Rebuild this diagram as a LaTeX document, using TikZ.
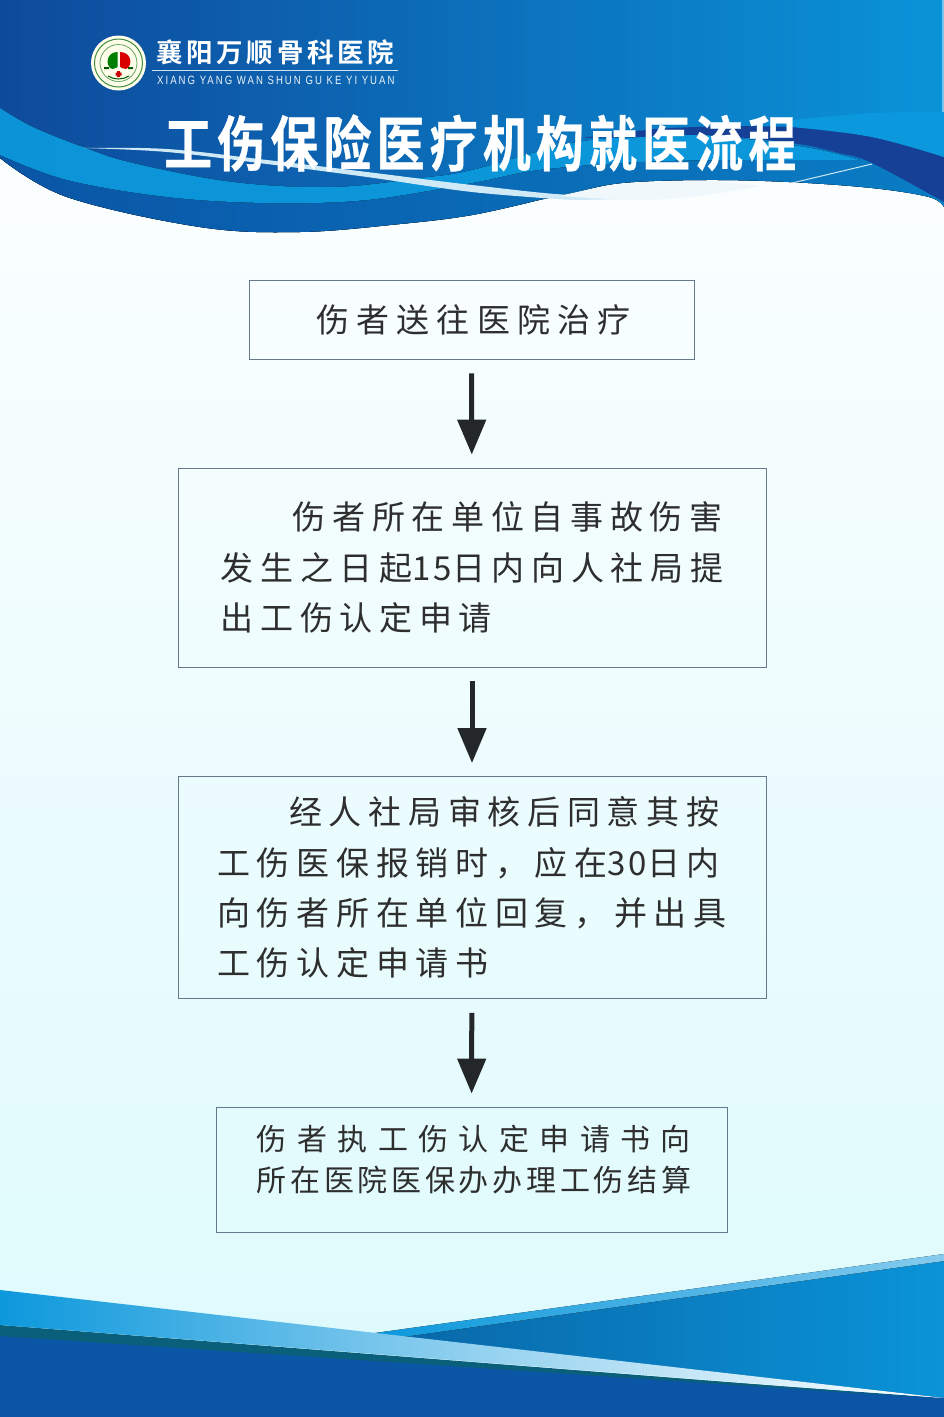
\documentclass[tikz,border=0pt]{standalone}
\usepackage{fontspec}
\usetikzlibrary{arrows.meta}
\setmainfont{Noto Sans CJK SC}
\newfontfamily\boxone[LetterSpace=21.5]{Noto Sans CJK SC}
\newfontfamily\boxfont[LetterSpace=20.3]{Noto Sans CJK SC}
\newfontfamily\numfont[LetterSpace=9]{Noto Sans CJK SC}
\newfontfamily\boxwide[LetterSpace=34.7]{Noto Sans CJK SC}
\newfontfamily\boxtight[LetterSpace=12.3]{Noto Sans CJK SC}
\newfontfamily\titlefont[FakeStretch=0.8,LetterSpace=8.5,FakeBold=0.5]{Noto Sans CJK SC Bold}
\newfontfamily\namefont[LetterSpace=14]{Noto Sans CJK SC Bold}
\newfontfamily\pinfont[LetterSpace=16.7,FakeStretch=0.8]{Liberation Sans}
\definecolor{hdA}{HTML}{0E4A9C}\definecolor{hdB}{HTML}{0A74BC}\definecolor{hdC}{HTML}{0A93D8}
\definecolor{lwA}{HTML}{0A55A6}\definecolor{lwB}{HTML}{0A6FB9}\definecolor{lwC}{HTML}{0A7DC4}
\definecolor{lightband}{HTML}{0C98DC}\definecolor{darkband}{HTML}{163F96}
\definecolor{pale}{HTML}{CFE9F6}\definecolor{boxline}{HTML}{66788A}
\definecolor{arrowc}{HTML}{23272A}\definecolor{bgend}{HTML}{DDFAFD}
\definecolor{tealband}{HTML}{0A607A}
\tikzset{
  flowbox/.style={draw=boxline,line width=0.9pt,rectangle,inner sep=0pt,align=left,text=black!82},
  flowarrow/.style={draw=arrowc,line width=5pt,-{Triangle[width=28pt,length=35pt]},shorten <=14pt,shorten >=13pt},
}
\begin{document}
\begin{tikzpicture}[x=1pt,y=-1pt]
\useasboundingbox (0,0) rectangle (944,1417);
% background
\shade[top color=white,bottom color=bgend] (0,0) rectangle (944,1417);
% header silhouette
\fill[left color=hdA,middle color=hdB,right color=hdC]
  (0,0) -- (944,0) -- (944,207)
  -- plot[smooth,tension=0.6] coordinates {(944,207) (929,197) (872,188) (789,182) (705,180) (622,183) (572,193) (539,200)}
  -- plot[smooth,tension=0.6] coordinates {(539,200) (472,215) (400,224) (300,232) (200,227) (67,197) (0,158)} -- cycle;
% lower blue layer, below the bands
\fill[left color=lwA,middle color=lwB,right color=lwC]
  (0,150) -- (300,195) -- (560,160) -- (792,140) -- (872,160) -- (944,200) -- (944,207)
  -- plot[smooth,tension=0.6] coordinates {(944,207) (929,197) (872,188) (789,182) (705,180) (622,183) (572,193) (539,200)}
  -- plot[smooth,tension=0.6] coordinates {(539,200) (472,215) (400,224) (300,232) (200,227) (67,197) (0,158)} -- cycle;
% light band
\fill[left color=lightband!85!hdB,right color=lightband]
  plot[smooth,tension=0.6] coordinates {(0,108) (33,127) (83,147) (133,163) (233,182) (333,187) (420,178) (472,170) (572,143) (639,137) (705,135) (805,147) (860,160)}
  -- plot[smooth,tension=0.6] coordinates {(860,160) (739,160) (639,162) (539,170) (472,183) (367,200) (267,203) (167,197) (67,180) (0,155)} -- cycle;
% dark band and top-right light band
\fill[darkband] plot[smooth,tension=0.6] coordinates {(582,138) (672,128) (792,127) (872,137) (944,157)}
  -- (944,202) -- plot[smooth,tension=0.6] coordinates {(944,202) (872,163) (839,153) (792,143) (705,135) (639,137) (582,138)} -- cycle;
\fill[lightband] plot[smooth,tension=0.6] coordinates {(792,120) (872,113) (944,112)} -- (944,157)
  -- plot[smooth,tension=0.6] coordinates {(944,157) (872,137) (792,127)} -- cycle;
% pale streak and haze
\fill[pale] plot[smooth,tension=0.6] coordinates {(83,148) (167,149) (267,160) (367,172) (472,185) (572,195) (640,192)}
  -- (640,199) -- (572,200) -- plot[smooth,tension=0.6] coordinates {(572,200) (472,192) (367,177) (267,164) (167,152) (83,148)} -- cycle;
\fill[white!70!pale] plot[smooth,tension=0.6] coordinates {(560,196) (622,184) (705,181) (760,186)}
  -- plot[smooth,tension=0.6] coordinates {(760,186) (700,196) (640,200) (560,196)} -- cycle;
% thin line at right
\draw[white!80!lightband,line width=1pt] (792,183) -- (872,164);
% edge strip
\fill[white!45!hdC] (942,0) rectangle (944,112);
% logo
\fill[white!92!yellow] (118.5,63) circle (27.5);
\draw[green!40!black!75,line width=1pt] (118.5,63) circle (24);
\draw[green!40!black!60,line width=0.8pt] (118.5,63) circle (18.5);
\fill[green!50!black] (117.5,52) .. controls (106,52) and (105,66) .. (112,69) .. controls (114,69) and (116,68) .. (117.5,67) -- cycle;
\fill[red!85!black] (120,52) .. controls (132,52) and (133,66) .. (126,69) .. controls (124,69) and (122,68) .. (120,67) -- cycle;
\fill[red!80!black] (117,71) rectangle (120,77) (115.5,72.5) rectangle (121.5,75.5);
\fill[green!35!black] (104,67) rectangle (109,69) (128,67) rectangle (133,69);
\draw[green!35!black,line width=1pt] (108,76) .. controls (114,80) and (123,80) .. (129,76);
% header texts
\node[inner sep=0pt,anchor=west,text=white] (hname) at (156,52.5) {\fontsize{26.5}{26.5}\selectfont\namefont 襄阳万顺骨科医院};
\coordinate (ruleL) at (152,70.5); \coordinate (ruleR) at (398,70.5);
\draw[white!80!hdB,line width=1.4pt] (ruleL) -- (ruleR);
\node[inner sep=0pt,anchor=west,text=white!92!hdB] (hpin) at (157,80.5) {\fontsize{12}{12}\selectfont\pinfont XIANG YANG WAN SHUN GU KE YI YUAN};
\node[inner sep=0pt,anchor=west,text=white] (title) at (164,143) {\fontsize{60}{60}\selectfont\titlefont 工伤保险医疗机构就医流程};
% footer
\fill[left color=hdB!90!black,right color=hdC] (403,1337) -- (944,1261) -- (944,1398) -- cycle;
\fill[left color=lightband,right color=white!50!lightband] (375,1333) -- (944,1254) -- (944,1261) -- (403,1337) -- cycle;
\fill[lwA] (0,1330) -- (944,1398) -- (944,1417) -- (0,1417) -- cycle;
\fill[tealband] (0,1325) -- (944,1399) -- (0,1336) -- cycle;
\shade[left color=lightband,right color=white,middle color=lightband!45!white] (0,1290) -- (944,1398) -- (0,1325) -- cycle;
% boxes
\node[flowbox,minimum width=445pt,minimum height=79pt,font=\fontsize{33}{33}\selectfont\boxone] (b1) at (471.5,319.5)
  {伤者送往医院治疗\hspace*{-4pt}};
\node[flowbox,minimum width=588pt,minimum height=199pt,font=\fontsize{33}{50.3}\selectfont\boxfont] (b2) at (472,567.5)
  {\hspace*{72pt}伤者所在单位自事故伤害\\发生之日起{\numfont 15}日内向人社局提\hspace*{-4pt}\\出工伤认定申请};
\node[flowbox,minimum width=588pt,minimum height=222pt,font=\fontsize{33}{50.2}\selectfont\boxfont] (b3) at (472,887.5)
  {\hspace*{72pt}经人社局审核后同意其按\\工伤医保报销时，应在{\numfont 30}日内\\向伤者所在单位回复，并出具\hspace*{-8pt}\\工伤认定申请书};
\node[flowbox,minimum width=511pt,minimum height=125pt,font=\fontsize{30}{41}\selectfont] (b4) at (471.5,1169.5)
  {\boxwide 伤者执工伤认定申请书向\hspace*{-11pt}\\\boxtight 所在医院医保办办理工伤结算\hspace*{-5pt}\rule[-22pt]{0pt}{1pt}};
% connectors
\draw[flowarrow] (b1) -- (b2);
\draw[flowarrow] (b2) -- (b3);
\draw[flowarrow] (b3) -- (b4);
\end{tikzpicture}
\end{document}
